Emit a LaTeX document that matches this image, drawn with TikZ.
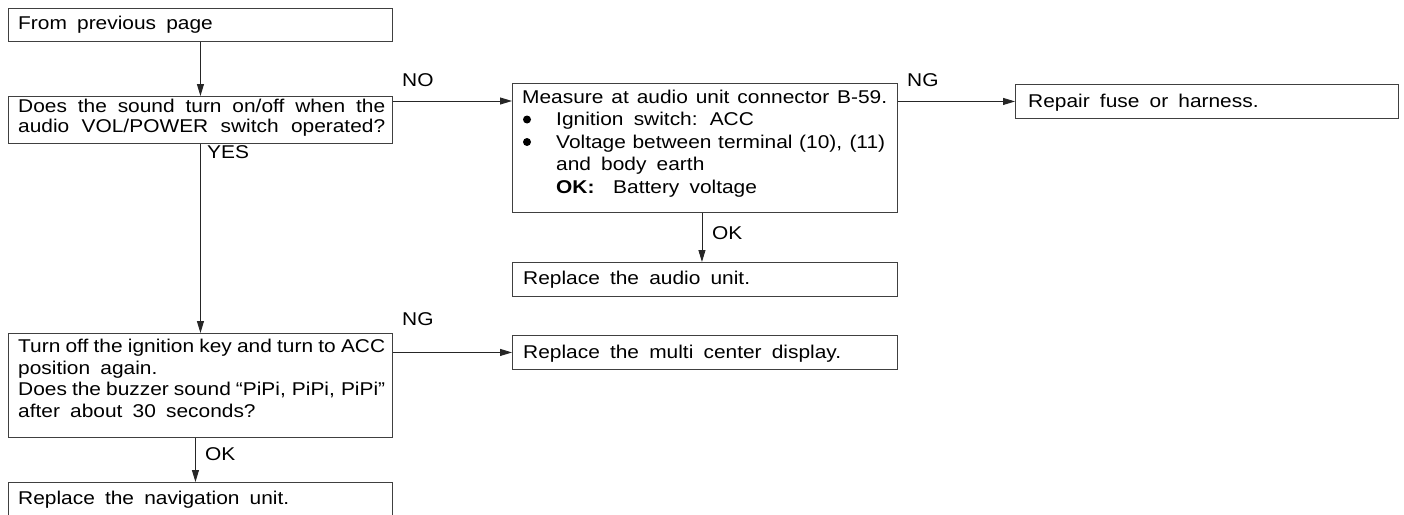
\documentclass[tikz,border=0pt]{standalone}
\usepackage{fontspec}
\setmainfont{Liberation Sans}[FakeStretch=1.13]
\usetikzlibrary{arrows.meta}
\newcommand{\myfs}{\fontsize{18.5}{21}\selectfont\spaceskip=0.55em plus 0.3em minus 0.3em\relax}
\begin{document}
\begin{tikzpicture}[x=1pt,y=-1pt,
  box/.style={draw=black!75,line width=0.9pt,inner sep=0pt,anchor=north west},
  txt/.style={anchor=base west,inner sep=0pt,font=\myfs},
  arr/.style={draw=black!85,line width=0.9pt,-{Triangle[length=12pt,width=7pt]}},
  bul/.style={circle,fill=black,inner sep=0pt,minimum size=8pt}]
\useasboundingbox (0,0) rectangle (1404,514);
% boxes
\node[box,minimum width=384pt,minimum height=33pt] (b1) at (8,8) {};
\node[box,minimum width=384pt,minimum height=47pt] (b2) at (8,96) {};
\node[box,minimum width=385pt,minimum height=129pt] (b3) at (512,83) {};
\node[box,minimum width=383pt,minimum height=34pt] (b4) at (1015,84) {};
\node[box,minimum width=385pt,minimum height=34pt] (b5) at (512,262) {};
\node[box,minimum width=384pt,minimum height=104pt] (b6) at (8,333) {};
\node[box,minimum width=385pt,minimum height=34pt] (b7) at (512,335) {};
\node[box,minimum width=384pt,minimum height=40pt] (b8) at (8,482) {};
% texts
\node[txt] (t1) at (18,29) {From previous page};
\node[txt] (q1a) at (18,112) {\makebox[367pt][s]{Does the sound turn on/off when the}};
\node[txt] (q1b) at (18,132) {\makebox[367pt][s]{audio VOL/POWER switch operated?}};
\node[txt] (m1) at (522,103) {\makebox[365pt][s]{Measure at audio unit connector B-59.}};
\node[bul] (d1) at (527,119.5) {};
\node[txt] (m2) at (556,125.5) {Ignition switch: ACC};
\node[bul] (d2) at (527,142) {};
\node[txt] (m3) at (556,148) {\makebox[329pt][s]{Voltage between terminal (10), (11)}};
\node[txt] (m4) at (556,170.5) {and body earth};
\node[txt] (m5) at (556,193) {\makebox[57pt][l]{\textbf{OK:}}Battery voltage};
\node[txt] (r1) at (1028,107) {Repair fuse or harness.};
\node[txt] (a1) at (523,284) {Replace the audio unit.};
\node[txt] (q2a) at (18,352) {\makebox[367pt][s]{Turn off the ignition key and turn to ACC}};
\node[txt] (q2b) at (18,374) {position again.};
\node[txt] (q2c) at (18,395.5) {\makebox[367pt][s]{Does the buzzer sound “PiPi, PiPi, PiPi”}};
\node[txt] (q2d) at (18,417) {after about 30 seconds?};
\node[txt] (mc) at (523,358) {Replace the multi center display.};
\node[txt] (nv) at (18,504) {Replace the navigation unit.};
% labels
\node[txt] (lno) at (402,86) {NO};
\node[txt] (lng1) at (907,86) {NG};
\node[txt] (lng2) at (402,325) {NG};
\node[txt] (lyes) at (207,158) {YES};
\node[txt] (lok1) at (712,239) {OK};
\node[txt] (lok2) at (205,460) {OK};
% connectors
\draw[arr] (b1.south) -- (b2.north);
\draw[arr] (b2.south) -- (b6.north);
\draw[arr] ([xshift=-5pt]b6.south) -- ([xshift=-5pt]b8.north);
\draw[arr] ([xshift=-3pt]b3.south) -- ([xshift=-3pt]b5.north);
\draw[arr] ([yshift=-5pt]b2.north east) -- ([yshift=-5pt]b2.north east -| b3.west);
\draw[arr] (b4.west -| b3.east) -- (b4.west);
\draw[arr] (b7.west -| b6.east) -- (b7.west);
\end{tikzpicture}
\end{document}
